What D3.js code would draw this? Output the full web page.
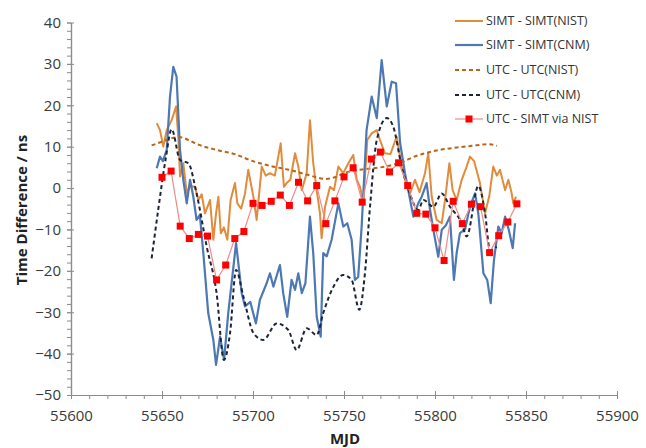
<!DOCTYPE html>
<html>
<head>
<meta charset="utf-8">
<script src="https://cdn.jsdelivr.net/npm/d3@7"></script>
<style>
  body { margin: 0; background: #fff; }
  svg { display: block; font-family: "Open Sans", sans-serif; }
</style>
</head>
<body>
<svg id="chart"></svg>
<script>
// SIMT - SIMT(NIST), orange solid
const simtNistMjd = [55647.1,55648.9,55650.7,55652.6,55655.3,55657.7,55659.0,55659.9,55661.7,55663.6,55665.4,55668.1,55670,55671.8,55673.6,55676.4,55678.2,55679.7,55681,55682.3,55684,55685.9,55687.7,55690.1,55691.4,55693.5,55695.6,55697.4,55700.2,55702,55704.8,55707,55709.3,55712,55715.2,55717,55718.5,55720.5,55723.1,55724.9,55726.8,55729.5,55731.3,55733.1,55735,55736.8,55737.7,55739.6,55742.3,55744.5,55746.9,55749.6,55752.4,55755.1,55757,55758.8,55760.6,55762.8,55765.2,55768,55769.8,55772.5,55775.5,55778.9,55781.7,55783.5,55786.3,55789,55791.5,55794.5,55796.3,55798.2,55800.9,55803.7,55805.5,55807.9,55809.7,55811.9,55814.7,55817.4,55819.2,55821.5,55824.7,55827.5,55829.8,55832,55834,55835.7,55838.5,55840.3,55842,55843,55844.5];
const simtNistVal = [15.7,14,10,14,16.4,19.7,12,2.8,6,-1.3,0.5,0.3,-2.9,-1.5,-6.1,-2.9,-12.5,-6.1,-2.1,-10.9,-9.5,-12.5,-2.9,1.2,-3.7,-5,-1.3,4.4,-2.1,-7.7,5.2,3,3.6,3,10.8,0.3,1.2,2,8.4,5.2,-0.5,3.6,16.4,6,-0.5,-6.1,-12.1,-4.5,0.3,-0.5,5.2,3.6,6,8,2,0.3,-3.7,11.6,13.2,14,11.6,8.4,8.2,12.4,5.2,2,-1.3,2,-1,3.6,8.4,-2.1,-7.7,-8.5,-2.9,6,-0.5,-2.9,2,5.2,7.6,6.5,1.2,-6.1,-2,5.2,3,4.4,-0.5,2,-1,-3.7,-2.1];

// SIMT - SIMT(CNM), blue solid
const simtCnmMjd = [55647.1,55648.9,55650.5,55652.6,55654.4,55656.2,55658,55659.9,55661.7,55663.6,55665.4,55667.2,55669,55670.8,55672.7,55675.4,55678.2,55679.7,55681.9,55684.1,55686.4,55690.7,55693.8,55695.6,55698.5,55701.6,55703.8,55707.5,55709.3,55711.2,55714.8,55716.6,55718.8,55721.2,55723.1,55724.9,55726.8,55728.8,55731.3,55733.1,55735,55737.2,55738.6,55740.5,55743.2,55746.9,55749.6,55751.8,55754.2,55756,55757.8,55759.7,55762.4,55765.2,55768,55770.7,55773.5,55776.2,55778.6,55780.8,55783.5,55788.1,55790.8,55792.7,55795.4,55797.3,55799.1,55801.8,55803.7,55806,55808.2,55810.4,55811.9,55813.7,55816.5,55819.2,55822,55823.8,55826.6,55828.7,55830.6,55832.4,55834.8,55836.6,55838.5,55840.5,55842.7,55844];
const simtCnmVal = [4.8,7.6,6.5,9.2,22.1,29.3,26.9,9.2,2,-3.7,2,-2.1,-7.7,-6.5,-15.7,-30.2,-36.7,-42.7,-35.9,-41.5,-30.2,-13.3,-25.4,-28.6,-27.5,-32.7,-27,-23,-20.6,-23.8,-18.6,-25.4,-31.1,-22.2,-24.6,-20.6,-25.4,-23,-6.9,-15.7,-31.1,-35.9,-15.7,-16.5,-12.5,-3.7,-9.3,-8.5,-12.5,-22.2,-21.5,-9.3,14,22.1,16.9,30.9,19.7,25.7,25.3,11,3.6,-6.9,-3.7,-2.1,1.2,-5.3,-10.1,-16.6,-10.1,-9,-6.9,-22.2,-15.7,-10.9,-10,-4.5,-1.3,-6.1,-20.6,-22.2,-27.8,-17.4,-9.3,-11,-6.9,-10,-14.5,-8.5];

// UTC - UTC(NIST), orange dashed
const utcNistMjd = [55644.3,55650,55655,55660,55665,55670,55680,55690,55700,55710,55720,55730,55740,55745,55750,55760,55770,55780,55790,55800,55810,55820,55830,55834];
const utcNistVal = [10.3,11.2,12.0,12.3,11.5,10.5,9.2,8.2,6.5,5.3,4.4,3.2,2.2,2.6,3.6,4.5,5.0,6.0,7.8,9.0,9.7,10.2,10.6,10.2];

// UTC - UTC(CNM), dark dashed
const utcCnmMjd = [55644.3,55648,55652,55655.3,55659.9,55664.5,55669,55674.6,55680,55684,55687.4,55690.7,55694.7,55700.2,55705.7,55713,55719.4,55724,55729.5,55735,55738.6,55744,55749.6,55754.2,55758.4,55761.5,55764.3,55768,55773.5,55777.1,55781.7,55786.3,55790.8,55793.6,55799.1,55803.7,55808.2,55814.7,55817.4,55823.8,55827.5,55830.2,55833.9];
const utcCnmVal = [-17,-5,7,14.2,6.8,6,-1.3,-14.2,-25.4,-41.5,-35,-19.8,-26.2,-35,-36.7,-32.7,-34.3,-39.1,-33.9,-35.5,-30.2,-24,-21,-22.2,-29.4,-20.6,-4.5,11.6,16.9,14.8,5.2,-1.5,-5.3,-2.9,-4.5,-1.3,-4.5,-8.5,-11.7,0.5,-6.1,-15,-14.2];

// UTC - SIMT via NIST, red squares every 5 days
const viaNistMjd = d3.range(55650, 55846, 5);
const viaNistVal = [2.6,4.1,-9.2,-12.2,-11.2,-11.6,-22.2,-18.6,-12.2,-10.5,-3.7,-4.2,-3.2,-1.7,-4.2,1.4,-3.1,0.6,-8.6,-3.1,2.7,4.9,-3.4,7.0,8.7,3.9,6.1,0.6,-6.1,-6.3,-9.6,-17.5,-3.2,-8.6,-3.9,-4.5,-15.6,-11.5,-8.2,-3.8];

const seriesNames = ["SIMT - SIMT(NIST)", "SIMT - SIMT(CNM)", "UTC - UTC(NIST)", "UTC - UTC(CNM)", "UTC - SIMT via NIST"];
const xTicks = [55600, 55650, 55700, 55750, 55800, 55850, 55900];
const yTicks = [40, 30, 20, 10, 0, -10, -20, -30, -40, -50];

const W = 646, H = 448;
const svg = d3.select('#chart').attr('width', W).attr('height', H);

const x = d3.scaleLinear().domain([55600, 55900]).range([71, 617]);
const y = d3.scaleLinear().domain([-50, 40]).range([395, 22.5]);

const axisColor = '#8c8c8c';

// minor ticks
const xMinor = svg.append('g').attr('transform', `translate(0,${y(-50)})`)
    .call(d3.axisBottom(x).tickValues(d3.range(55600, 55901, 10)).tickFormat('').tickSize(4).tickSizeOuter(0));
const yMinor = svg.append('g').attr('transform', `translate(${x(55600)},0)`)
    .call(d3.axisLeft(y).tickValues(d3.range(-50, 41, 2)).tickFormat('').tickSize(4).tickSizeOuter(0));

// major axes
const xAxis = svg.append('g').attr('transform', `translate(0,${y(-50)})`)
    .call(d3.axisBottom(x).tickValues(xTicks).tickFormat(d3.format('d')).tickSize(4).tickSizeOuter(0).tickPadding(11));
const yAxis = svg.append('g').attr('transform', `translate(${x(55600)},0)`)
    .call(d3.axisLeft(y).tickValues(yTicks).tickSize(4).tickSizeOuter(0).tickPadding(6));

xAxis.selectAll('.tick line').attr('y1', -4);
yAxis.selectAll('.tick line').attr('x1', 3);

[xMinor, yMinor, xAxis, yAxis].forEach(g => {
    g.selectAll('path.domain').attr('stroke', axisColor).attr('stroke-width', 1.2);
    g.selectAll('.tick line').attr('stroke', axisColor).attr('stroke-width', 1);
});
xAxis.selectAll('text').attr('font-size', 15).attr('fill', '#3a3a3a').attr('font-family', '"Open Sans", sans-serif');
yAxis.selectAll('text').attr('font-size', 15).attr('fill', '#3a3a3a').attr('font-family', '"Open Sans", sans-serif');

// axis titles
svg.append('text')
    .attr('x', 345).attr('y', 444)
    .attr('text-anchor', 'middle')
    .attr('font-size', 15).attr('font-weight', 'bold').attr('fill', '#222')
    .text('MJD');
svg.append('text')
    .attr('transform', 'translate(27,210) rotate(-90)')
    .attr('text-anchor', 'middle')
    .attr('font-size', 15).attr('font-weight', 'bold').attr('fill', '#222')
    .text('Time Difference / ns');

const zip = (xs, ys) => xs.map((d, i) => ({x: d, y: ys[i]}));
const line = d3.line().x(d => x(d.x)).y(d => y(d.y));
const smooth = d3.line().x(d => x(d.x)).y(d => y(d.y)).curve(d3.curveMonotoneX);

const styles = [
    {data: zip(simtNistMjd, simtNistVal), color: '#e08c3c', width: 2, dash: null, gen: line},
    {data: zip(simtCnmMjd, simtCnmVal), color: '#4d78b4', width: 2.2, dash: null, gen: line},
    {data: zip(utcNistMjd, utcNistVal), color: '#b8651c', width: 2, dash: '4,3', gen: smooth},
    {data: zip(utcCnmMjd, utcCnmVal), color: '#1c2538', width: 2, dash: '4,3', gen: smooth},
    {data: zip(viaNistMjd, viaNistVal), color: '#f08a8a', width: 1.2, dash: null, gen: line}
];

styles.forEach(s => {
    svg.append('path')
        .attr('d', s.gen(s.data))
        .attr('fill', 'none')
        .attr('stroke', s.color)
        .attr('stroke-width', s.width)
        .attr('stroke-dasharray', s.dash)
        .attr('stroke-linejoin', 'round');
});

svg.append('g').selectAll('rect')
    .data(styles[4].data)
    .enter()
    .append('rect')
    .attr('x', d => x(d.x) - 3.5)
    .attr('y', d => y(d.y) - 3.5)
    .attr('width', 7).attr('height', 7)
    .attr('fill', '#ff0000');

// legend
const legend = svg.append('g');
const rowY = [21, 45, 70, 95, 119];
seriesNames.forEach((name, i) => {
    const s = styles[i];
    legend.append('line')
        .attr('x1', 455).attr('x2', 483)
        .attr('y1', rowY[i]).attr('y2', rowY[i])
        .attr('stroke', s.color)
        .attr('stroke-width', s.width)
        .attr('stroke-dasharray', s.dash);
    if (i === 4) {
        legend.append('rect')
            .attr('x', 469 - 3.5).attr('y', rowY[i] - 3.5)
            .attr('width', 7).attr('height', 7)
            .attr('fill', '#ff0000');
    }
    legend.append('text')
        .attr('x', 486).attr('y', rowY[i])
        .attr('dy', '0.35em')
        .attr('font-size', 12.5)
        .attr('fill', '#333')
        .text(name);
});
</script>
</body>
</html>
